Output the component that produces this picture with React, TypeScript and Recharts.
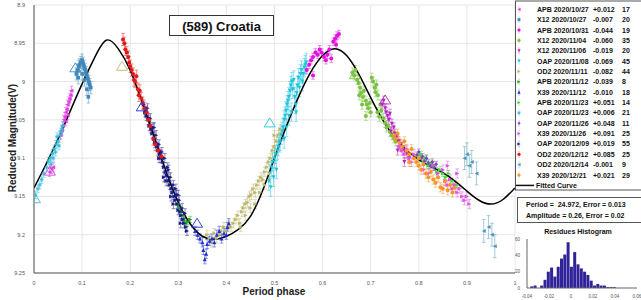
import React from "react";
import {
  ComposedChart,
  Scatter,
  Line,
  XAxis,
  YAxis,
  CartesianGrid,
  ErrorBar,
  BarChart,
  Bar,
} from "recharts";

type Pt = [number, number];

const phaseTicks = [0, 0.1, 0.2, 0.3, 0.4, 0.5, 0.6, 0.7, 0.8, 0.9, 1];
const magTicks = [8.9, 8.95, 9, 9.05, 9.1, 9.15, 9.2, 9.25];

// fitted curve
const curvePhase = [
  0, 0.025, 0.05, 0.075, 0.1, 0.125, 0.15, 0.175, 0.2, 0.225, 0.25, 0.275, 0.3, 0.325,
  0.35, 0.375, 0.4, 0.425, 0.45, 0.475, 0.5, 0.525, 0.55, 0.575, 0.6, 0.625, 0.65,
  0.675, 0.7, 0.725, 0.75, 0.775, 0.8, 0.825, 0.85, 0.875, 0.9, 0.925, 0.95, 0.975, 1,
];
const curveMag = [
  9.139, 9.108, 9.075, 9.039, 9.003, 8.97, 8.946, 8.957, 8.985, 9.027, 9.072, 9.118,
  9.158, 9.186, 9.202, 9.206, 9.202, 9.193, 9.176, 9.143, 9.1, 9.058, 9.02, 8.988,
  8.966, 8.957, 8.966, 8.99, 9.021, 9.05, 9.073, 9.09, 9.102, 9.111, 9.119, 9.13,
  9.143, 9.155, 9.16, 9.154, 9.139,
];

// sessions
const sessionNames = [
  "APB 2020/10/27", "X12 2020/10/27", "APB 2020/10/31", "X12 2020/11/04", "X12 2020/11/06",
  "OAP 2020/11/08", "OD2 2020/11/11", "APB 2020/11/12", "X39 2020/11/12", "APB 2020/11/23",
  "OAP 2020/11/23", "OAP 2020/11/26", "X39 2020/11/26", "OAP 2020/12/09", "OD2 2020/12/12",
  "OD2 2020/12/14", "X39 2020/12/21",
];
const sessionOffsets = [
  "+0.012", "-0.007", "-0.044", "-0.060", "-0.019", "-0.069", "-0.082", "-0.039", "-0.010",
  "+0.051", "+0.006", "+0.048", "+0.091", "+0.019", "+0.085", "-0.001", "+0.021",
];
const sessionCounts = [17, 20, 19, 35, 20, 45, 44, 8, 18, 14, 21, 11, 25, 55, 25, 9, 29];
const sessionErrors = [
  0.006, 0.008, 0.005, 0.006, 0.006, 0.012, 0.006, 0.004, 0.006, 0.004, 0.005, 0.004,
  0.006, 0.006, 0.008, 0.015, 0.006,
];

const apb1027: Pt[] = [
  [0.032, 9.118], [0.036, 9.114], [0.04, 9.112], [0.055, 9.07], [0.058, 9.064], [0.06, 9.058],
  [0.062, 9.05], [0.064, 9.046], [0.066, 9.04], [0.068, 9.036], [0.07, 9.03], [0.072, 9.026],
  [0.074, 9.022], [0.076, 9.018], [0.078, 9.012], [0.066, 9.052], [0.07, 9.044],
];
const x12_1027: Pt[] = [
  [0.088, 8.99], [0.09, 8.985], [0.093, 8.98], [0.095, 8.978], [0.097, 8.975], [0.1, 8.972],
  [0.102, 8.976], [0.104, 8.98], [0.106, 8.984], [0.108, 8.988], [0.11, 8.992], [0.112, 8.996],
  [0.114, 9.0], [0.116, 9.004], [0.118, 9.008], [0.1, 8.99], [0.105, 8.998], [0.11, 9.01],
  [0.113, 9.02], [0.092, 8.995],
];
const apb1031: Pt[] = [
  [0.567, 8.985], [0.572, 8.978], [0.576, 8.972], [0.58, 8.968], [0.585, 8.962], [0.59, 8.965],
  [0.594, 8.958], [0.598, 8.962], [0.603, 8.968], [0.607, 8.972], [0.61, 8.965], [0.614, 8.958],
  [0.618, 8.97], [0.622, 8.948], [0.626, 8.944], [0.63, 8.94], [0.634, 8.938], [0.628, 8.952],
  [0.58, 8.992],
];
const x12_1104: Pt[] = [
  [0.662, 8.988], [0.666, 8.992], [0.668, 8.985], [0.672, 8.998], [0.675, 9.002], [0.678, 9.008],
  [0.68, 9.015], [0.684, 9.02], [0.686, 9.012], [0.69, 9.025], [0.692, 9.03], [0.695, 9.035],
  [0.698, 9.028], [0.7, 9.04], [0.702, 8.995], [0.705, 9.0], [0.708, 9.008], [0.71, 9.014],
  [0.712, 9.004], [0.715, 9.018], [0.72, 9.03], [0.722, 9.038], [0.726, 9.048], [0.73, 9.054],
  [0.733, 9.06], [0.736, 9.058], [0.74, 9.066], [0.744, 9.07], [0.748, 9.074], [0.752, 9.078],
  [0.69, 9.045], [0.682, 9.03], [0.676, 9.018], [0.714, 9.04], [0.718, 9.046],
];
const x12_1106: Pt[] = [
  [0.724, 9.03], [0.727, 9.025], [0.73, 9.035], [0.732, 9.04], [0.735, 9.045], [0.738, 9.05],
  [0.74, 9.042], [0.744, 9.055], [0.748, 9.06], [0.75, 9.068], [0.754, 9.072], [0.758, 9.078],
  [0.762, 9.082], [0.766, 9.086], [0.77, 9.09], [0.775, 9.094], [0.78, 9.1], [0.742, 9.065],
  [0.756, 9.09], [0.77, 9.105],
];
const oap1108: Pt[] = [
  [0.488, 9.13], [0.49, 9.12], [0.492, 9.138], [0.494, 9.112], [0.496, 9.105], [0.498, 9.125],
  [0.5, 9.1], [0.502, 9.095], [0.504, 9.115], [0.506, 9.09], [0.508, 9.085], [0.51, 9.08],
  [0.512, 9.078], [0.514, 9.07], [0.516, 9.065], [0.518, 9.06], [0.52, 9.05], [0.522, 9.045],
  [0.524, 9.038], [0.526, 9.03], [0.528, 9.025], [0.53, 9.02], [0.532, 9.012], [0.534, 9.005],
  [0.536, 9.0], [0.538, 9.01], [0.54, 8.998], [0.542, 9.02], [0.544, 9.03], [0.546, 9.015],
  [0.548, 9.005], [0.55, 8.995], [0.552, 9.008], [0.554, 8.99], [0.556, 8.985], [0.558, 9.0],
  [0.56, 8.99], [0.562, 8.982], [0.564, 8.978], [0.566, 8.975], [0.52, 9.075], [0.525, 9.06],
  [0.53, 9.045], [0.535, 9.04], [0.545, 9.04],
];
const od2_1111: Pt[] = [
  [0.36, 9.2], [0.365, 9.205], [0.37, 9.21], [0.375, 9.198], [0.38, 9.205], [0.385, 9.2],
  [0.39, 9.195], [0.395, 9.19], [0.4, 9.195], [0.405, 9.188], [0.41, 9.19], [0.415, 9.185],
  [0.42, 9.18], [0.424, 9.175], [0.428, 9.185], [0.432, 9.17], [0.436, 9.165], [0.44, 9.16],
  [0.444, 9.158], [0.448, 9.15], [0.452, 9.148], [0.456, 9.14], [0.46, 9.145], [0.464, 9.135],
  [0.468, 9.13], [0.472, 9.125], [0.476, 9.128], [0.48, 9.118], [0.484, 9.112], [0.488, 9.105],
  [0.492, 9.1], [0.496, 9.09], [0.5, 9.085], [0.504, 9.078], [0.508, 9.07], [0.512, 9.062],
  [0.44, 9.175], [0.45, 9.165], [0.46, 9.16], [0.43, 9.19], [0.47, 9.145], [0.48, 9.135],
  [0.49, 9.12], [0.5, 9.07],
];
const apb1112: Pt[] = [
  [0.3, 9.16], [0.303, 9.165], [0.306, 9.17], [0.31, 9.175], [0.313, 9.182], [0.316, 9.185],
  [0.32, 9.183], [0.325, 9.18],
];
const x39_1112: Pt[] = [
  [0.335, 9.195], [0.34, 9.2], [0.345, 9.205], [0.35, 9.21], [0.352, 9.22], [0.355, 9.232],
  [0.358, 9.225], [0.36, 9.212], [0.365, 9.208], [0.37, 9.205], [0.375, 9.21], [0.38, 9.2],
  [0.385, 9.195], [0.39, 9.205], [0.395, 9.198], [0.4, 9.2], [0.402, 9.19], [0.405, 9.185],
];
const apb1123: Pt[] = [
  [0.8, 9.1], [0.805, 9.095], [0.81, 9.105], [0.815, 9.1], [0.82, 9.11], [0.826, 9.108],
  [0.832, 9.112], [0.838, 9.118], [0.844, 9.115], [0.85, 9.12], [0.856, 9.125], [0.862, 9.12],
  [0.87, 9.13], [0.88, 9.135],
];
const oap1123: Pt[] = [
  [0.003, 9.148], [0.008, 9.14], [0.012, 9.135], [0.016, 9.128], [0.02, 9.12], [0.026, 9.112],
  [0.03, 9.104], [0.034, 9.1], [0.038, 9.094], [0.042, 9.088], [0.046, 9.082], [0.05, 9.078],
  [0.054, 9.07], [0.056, 9.066], [0.058, 9.062], [0.045, 9.092], [0.04, 9.1], [0.048, 9.072],
  [0.035, 9.108], [0.052, 9.084], [0.06, 9.058],
];
const oap1126: Pt[] = [
  [0.796, 9.096], [0.8, 9.092], [0.804, 9.1], [0.808, 9.098], [0.812, 9.104], [0.816, 9.1],
  [0.82, 9.106], [0.824, 9.11], [0.828, 9.105], [0.832, 9.112], [0.836, 9.108],
];
const x39_1126: Pt[] = [
  [0.76, 9.085], [0.765, 9.09], [0.77, 9.095], [0.775, 9.088], [0.78, 9.1], [0.785, 9.105],
  [0.79, 9.095], [0.81, 9.115], [0.82, 9.12], [0.83, 9.11], [0.84, 9.12], [0.85, 9.115],
  [0.855, 9.13], [0.86, 9.135], [0.865, 9.128], [0.87, 9.14], [0.875, 9.135], [0.88, 9.145],
  [0.885, 9.14], [0.89, 9.15], [0.895, 9.155], [0.9, 9.15], [0.905, 9.16], [0.88, 9.12],
  [0.86, 9.11],
];
const oap1209: Pt[] = [
  [0.228, 9.03], [0.231, 9.04], [0.234, 9.045], [0.236, 9.035], [0.238, 9.05], [0.24, 9.058],
  [0.242, 9.048], [0.244, 9.062], [0.246, 9.068], [0.248, 9.06], [0.25, 9.075], [0.252, 9.08],
  [0.254, 9.07], [0.256, 9.085], [0.258, 9.09], [0.26, 9.082], [0.262, 9.095], [0.264, 9.1],
  [0.266, 9.092], [0.268, 9.105], [0.27, 9.112], [0.272, 9.1], [0.274, 9.118], [0.276, 9.122],
  [0.278, 9.112], [0.28, 9.13], [0.282, 9.135], [0.284, 9.125], [0.286, 9.14], [0.288, 9.145],
  [0.29, 9.135], [0.292, 9.15], [0.294, 9.155], [0.296, 9.148], [0.298, 9.16], [0.3, 9.168],
  [0.302, 9.155], [0.304, 9.17], [0.306, 9.175], [0.308, 9.165], [0.31, 9.18], [0.312, 9.185],
  [0.314, 9.172], [0.316, 9.19], [0.318, 9.195], [0.27, 9.125], [0.28, 9.115], [0.29, 9.16],
  [0.3, 9.148], [0.26, 9.1], [0.25, 9.06], [0.285, 9.15], [0.295, 9.14], [0.305, 9.185],
  [0.275, 9.13],
];
const od2_1212: Pt[] = [
  [0.185, 8.945], [0.188, 8.95], [0.19, 8.958], [0.193, 8.962], [0.196, 8.968], [0.198, 8.975],
  [0.2, 8.98], [0.203, 8.985], [0.206, 8.99], [0.208, 8.998], [0.21, 9.0], [0.213, 8.993],
  [0.216, 9.01], [0.218, 9.018], [0.22, 9.012], [0.223, 9.022], [0.226, 9.028], [0.23, 9.035],
  [0.234, 9.04], [0.238, 9.05], [0.242, 9.058], [0.248, 9.075], [0.252, 9.082], [0.258, 9.09],
  [0.265, 9.098],
];
const od2_1214: Pt[] = [
  [0.895, 9.1], [0.9, 9.095], [0.905, 9.11], [0.91, 9.105], [0.92, 9.12], [0.935, 9.195],
  [0.945, 9.19], [0.952, 9.2], [0.958, 9.215],
];
const x39_1221: Pt[] = [
  [0.748, 9.07], [0.752, 9.075], [0.756, 9.068], [0.76, 9.08], [0.765, 9.085], [0.77, 9.078],
  [0.775, 9.09], [0.78, 9.095], [0.785, 9.088], [0.79, 9.1], [0.795, 9.105], [0.8, 9.11],
  [0.805, 9.115], [0.81, 9.108], [0.815, 9.12], [0.82, 9.125], [0.825, 9.118], [0.83, 9.128],
  [0.835, 9.132], [0.84, 9.125], [0.845, 9.138], [0.85, 9.14], [0.855, 9.13], [0.86, 9.142],
  [0.865, 9.135], [0.87, 9.145], [0.875, 9.138], [0.78, 9.105], [0.8, 9.1],
];

const sessionPoints: Pt[][] = [
  apb1027, x12_1027, apb1031, x12_1104, x12_1106, oap1108, od2_1111, apb1112, x39_1112,
  apb1123, oap1123, oap1126, x39_1126, oap1209, od2_1212, od2_1214, x39_1221,
];

// first point of some sessions, drawn as large open triangles
const startPhase = [0.002, 0.033, 0.086, 0.183, 0.224, 0.339, 0.49, 0.667, 0.73];
const startMag = [9.153, 9.117, 8.982, 8.98, 9.033, 9.185, 9.054, 8.991, 9.024];
const startSession = [10, 0, 1, 6, 8, 8, 5, 3, 4];

// residues histogram
const binCenter = [
  -0.0355, -0.0325, -0.0295, -0.0265, -0.0235, -0.0205, -0.0175, -0.0145, -0.0115, -0.0085,
  -0.0055, -0.0025, 0.0005, 0.0035, 0.0065, 0.0095, 0.0125, 0.0155, 0.0185, 0.0215, 0.0245,
  0.0275, 0.0305, 0.0335, 0.0365, 0.0395,
];
const binCount = [
  2, 3, 0, 3, 10, 20, 25, 14, 26, 36, 41, 56, 26, 44, 29, 24, 20, 16, 9, 3, 5, 3, 3, 1, 1, 1,
];
const histTicks = [-0.04, -0.02, 0, 0.02, 0.04, 0.06];
const histCountTicks = [0, 20, 40, 60];

// styles
const sessionColors = [
  "#e03ce0", "#3f88bd", "#e012e0", "#7cc242", "#b524c0", "#1cc3de", "#bdb76b", "#22a022",
  "#1f2fd0", "#3fdc3f", "#38bcd8", "#7050b0", "#e050e0", "#1c1c8a", "#e41a1a", "#4a98b8",
  "#f5962a",
];
const sessionShapes = [
  "left", "square", "circle", "circle", "down", "down", "right", "right", "up", "right",
  "star", "diamond", "right", "right", "circle", "left", "circle",
];

const FONT = "'Liberation Sans', Arial, sans-serif";

const curveData = curvePhase.map((phase, i) => ({ phase, mag: curveMag[i] }));
const sessionData = sessionPoints.map((pts, i) =>
  pts.map(([phase, mag]) => ({ phase, mag, err: sessionErrors[i] }))
);
const startData = startPhase.map((phase, i) => ({ phase, mag: startMag[i], s: startSession[i] }));
const histData = binCenter.map((bin, i) => ({ bin, count: binCount[i] }));

function Marker({ kind, cx, cy, color, r = 2 }: { kind: string; cx: number; cy: number; color: string; r?: number }) {
  if (cx == null || cy == null) return null;
  switch (kind) {
    case "square":
      return <rect x={cx - r * 0.9} y={cy - r * 0.9} width={r * 1.8} height={r * 1.8} fill={color} />;
    case "left":
      return <polygon points={`${cx - r},${cy} ${cx + r},${cy - r} ${cx + r},${cy + r}`} fill={color} />;
    case "right":
      return <polygon points={`${cx + r},${cy} ${cx - r},${cy - r} ${cx - r},${cy + r}`} fill={color} />;
    case "up":
      return <polygon points={`${cx},${cy - r} ${cx - r},${cy + r} ${cx + r},${cy + r}`} fill={color} />;
    case "down":
      return <polygon points={`${cx},${cy + r} ${cx - r},${cy - r} ${cx + r},${cy - r}`} fill={color} />;
    case "diamond":
      return <polygon points={`${cx},${cy - r} ${cx + r},${cy} ${cx},${cy + r} ${cx - r},${cy}`} fill={color} />;
    case "star":
      return (
        <g stroke={color} strokeWidth={0.9}>
          <line x1={cx - r} y1={cy} x2={cx + r} y2={cy} />
          <line x1={cx} y1={cy - r} x2={cx} y2={cy + r} />
          <line x1={cx - r * 0.7} y1={cy - r * 0.7} x2={cx + r * 0.7} y2={cy + r * 0.7} />
          <line x1={cx - r * 0.7} y1={cy + r * 0.7} x2={cx + r * 0.7} y2={cy - r * 0.7} />
        </g>
      );
    default:
      return <circle cx={cx} cy={cy} r={r} fill={color} />;
  }
}

const makeShape = (kind: string, color: string) => (p: any) =>
  <Marker kind={kind} cx={p.cx} cy={p.cy} color={color} />;

const startShape = (p: any) => {
  if (p.cx == null) return null;
  const c = sessionColors[p.payload?.s ?? 0];
  return (
    <polygon
      points={`${p.cx},${p.cy - 5} ${p.cx - 5.5},${p.cy + 4} ${p.cx + 5.5},${p.cy + 4}`}
      fill="none"
      stroke={c}
      strokeWidth={0.9}
    />
  );
};

export default function App() {
  const rowY = (i: number) => 9.3 + 10.36 * i;
  return (
    <div style={{ position: "absolute", left: 0, top: 0, width: 641, height: 300, background: "#fff", fontFamily: FONT }}>
      <ComposedChart width={641} height={300} margin={{ top: 5, right: 126, bottom: 0, left: 0 }}>
        <CartesianGrid stroke="#e6e6e6" />
        <XAxis
          dataKey="phase"
          type="number"
          domain={[0, 1]}
          ticks={phaseTicks}
          allowDataOverflow
          height={27}
          tick={{ fontSize: 5.5, fill: "#555", fontFamily: FONT }}
          tickLine={false}
          tickMargin={2}
          axisLine={{ stroke: "#555" }}
        />
        <YAxis
          dataKey="mag"
          type="number"
          domain={[8.9, 9.25]}
          ticks={magTicks}
          reversed
          allowDataOverflow
          width={34}
          tick={{ fontSize: 5.5, fill: "#555", fontFamily: FONT }}
          tickLine={false}
          tickMargin={3}
          axisLine={{ stroke: "#555" }}
        />
        {sessionData.map((d, i) => (
          <Scatter
            key={sessionNames[i]}
            data={d}
            shape={makeShape(sessionShapes[i], sessionColors[i])}
            isAnimationActive={false}
          >
            <ErrorBar dataKey="err" direction="y" width={1.8} strokeWidth={0.7} stroke={sessionColors[i]} opacity={0.7} />
          </Scatter>
        ))}
        <Scatter data={startData} shape={startShape} isAnimationActive={false} />
        <Line
          data={curveData}
          dataKey="mag"
          type="natural"
          stroke="#000"
          strokeWidth={1.5}
          dot={false}
          activeDot={false}
          isAnimationActive={false}
        />
      </ComposedChart>

      <div style={{ position: "absolute", left: 500, top: 225 }}>
        <BarChart
          width={141}
          height={75}
          data={histData}
          margin={{ top: 14, right: 4, bottom: 0, left: 7 }}
          barCategoryGap={0}
          barGap={0}
        >
          <XAxis
            dataKey="bin"
            type="number"
            domain={[-0.04, 0.06]}
            ticks={histTicks}
            allowDataOverflow
            height={12}
            tick={{ fontSize: 4.5, fill: "#555", fontFamily: FONT }}
            tickLine={false}
            tickMargin={1}
            axisLine={{ stroke: "#666" }}
          />
          <XAxis xAxisId="top" orientation="top" type="number" domain={[-0.04, 0.06]} height={0} tick={false} tickLine={false} axisLine={{ stroke: "#bbb" }} />
          <YAxis
            type="number"
            domain={[0, 60]}
            ticks={histCountTicks}
            width={20}
            tick={{ fontSize: 4.5, fill: "#555", fontFamily: FONT }}
            tickLine={false}
            tickMargin={1}
            axisLine={{ stroke: "#666" }}
          />
          <YAxis yAxisId="right" orientation="right" type="number" domain={[0, 60]} width={0} tick={false} tickLine={false} axisLine={{ stroke: "#bbb" }} />
          <Bar dataKey="count" fill="#2e2399" isAnimationActive={false} />
        </BarChart>
      </div>

      <svg width={641} height={300} style={{ position: "absolute", left: 0, top: 0, pointerEvents: "none" }} fontFamily={FONT}>
        {/* title */}
        <rect x={169.5} y={15.5} width={104} height={20} fill="#fff" stroke="#333" strokeWidth={1} />
        <text x={221.5} y={26} textAnchor="middle" dominantBaseline="central" fontSize={13} fontWeight="bold" fill="#111">
          (589) Croatia
        </text>

        {/* axis titles */}
        <text x={12.5} y={138} transform="rotate(-90 12.5 138)" textAnchor="middle" dominantBaseline="central" fontSize={10} fontWeight="bold" fill="#222">
          Reduced Magnitude(V)
        </text>
        <text x={274} y={291} textAnchor="middle" dominantBaseline="central" fontSize={10} fontWeight="bold" fill="#222">
          Period phase
        </text>

        {/* legend */}
        <rect x={515.5} y={1} width={135} height={189} fill="#fff" stroke="#555" strokeWidth={1} />
        {sessionNames.map((name, i) => (
          <g key={name}>
            <line x1={519} x2={519} y1={rowY(i) - 3.5} y2={rowY(i) + 3.5} stroke={sessionColors[i]} strokeWidth={0.6} opacity={0.6} />
            <Marker kind={sessionShapes[i]} cx={519} cy={rowY(i)} color={sessionColors[i]} r={1.6} />
            <text x={537} y={rowY(i)} dominantBaseline="central" fontSize={7} fontWeight="bold" fill="#111">{name}</text>
            <text x={593} y={rowY(i)} dominantBaseline="central" fontSize={7} fontWeight="bold" fill="#111">{sessionOffsets[i]}</text>
            <text x={622} y={rowY(i)} dominantBaseline="central" fontSize={7} fontWeight="bold" fill="#111">{sessionCounts[i]}</text>
          </g>
        ))}
        <line x1={516} x2={534} y1={rowY(17)} y2={rowY(17)} stroke="#111" strokeWidth={1.5} />
        <text x={536} y={rowY(17)} dominantBaseline="central" fontSize={7} fontWeight="bold" fill="#111">Fitted Curve</text>

        {/* fit result */}
        <rect x={517.5} y={197.5} width={126} height={25} fill="#fff" stroke="#555" strokeWidth={1} />
        <text x={526} y={204.5} dominantBaseline="central" fontSize={7} fontWeight="bold" fill="#111" xmlSpace="preserve">
          Period =  24.972, Error = 0.013
        </text>
        <text x={526} y={215} dominantBaseline="central" fontSize={7} fontWeight="bold" fill="#111">
          Amplitude = 0.26, Error = 0.02
        </text>

        {/* histogram title */}
        <text x={578} y={231.5} textAnchor="middle" dominantBaseline="central" fontSize={7} fontWeight="bold" fill="#111">
          Residues Histogram
        </text>
      </svg>
    </div>
  );
}
